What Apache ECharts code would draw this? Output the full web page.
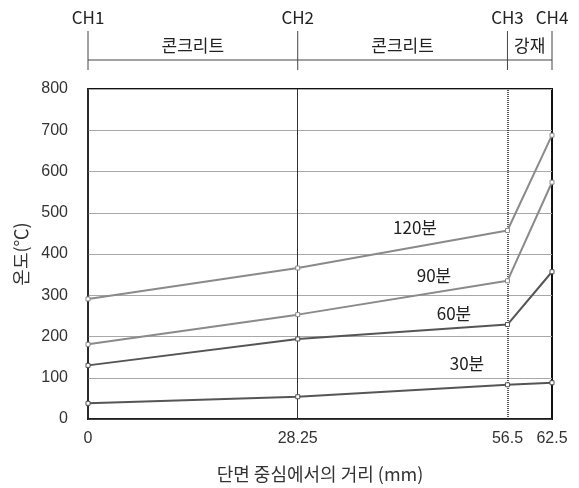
<!DOCTYPE html>
<html>
<head>
<meta charset="utf-8">
<script src="https://cdn.jsdelivr.net/npm/echarts@6/dist/echarts.min.js"></script>
<style>
  html, body { margin: 0; padding: 0; background: #fff; }
  #chart { width: 579px; height: 488px; }
</style>
</head>
<body>
<div id="chart"></div>
<script>
// 거리 (mm)
var distances = [0, 28.25, 56.5, 62.5];
var chNames = ['CH1', 'CH2', 'CH3', 'CH4'];
var zones = ['콘크리트', '콘크리트', '강재'];

var seriesNames = ['120분', '90분', '60분', '30분'];
var temp120 = [291, 366, 457, 688];
var temp90 = [181, 253, 335, 574];
var temp60 = [130, 194, 229, 357];
var temp30 = [38, 54, 83, 88];

var KFONT = '"Noto Sans CJK KR", "Noto Sans", sans-serif';
var NFONT = '"Liberation Sans", Arial, sans-serif';

function pts(vals) {
    var out = [];
    for (var i = 0; i < distances.length; i++) {
        out.push([distances[i], vals[i]]);
    }
    return out;
}

var lineColors = ['#8a8a8a', '#8a8a8a', '#555', '#555'];
var allData = [temp120, temp90, temp60, temp30];

var series = [];
for (var s = 0; s < allData.length; s++) {
    series.push({
        name: seriesNames[s],
        type: 'line',
        data: pts(allData[s]),
        symbol: 'rect',
        symbolSize: 4,
        lineStyle: { color: lineColors[s], width: 2 },
        itemStyle: { color: '#fff', borderColor: lineColors[s], borderWidth: 1 },
        z: 5
    });
}
// 세로 구분선 (CH2, CH3)
series.push({
    type: 'line',
    data: [],
    markLine: {
        silent: true,
        symbol: 'none',
        label: { show: false },
        data: [
            { xAxis: distances[1], lineStyle: { color: '#333', width: 1, type: 'solid' } },
            { xAxis: distances[2], lineStyle: { color: '#222', width: 1.5, type: [1, 1] } }
        ]
    }
});

var myChart = echarts.init(document.getElementById('chart'));
var option = {
    backgroundColor: '#fff',
    animation: false,
    grid: {
        left: 88, right: 27, top: 89, bottom: 67,
        show: true, borderColor: '#111', borderWidth: 2,
        containLabel: false
    },
    xAxis: {
        type: 'value',
        min: 0, max: 62.5,
        name: '단면 중심에서의 거리 (mm)',
        nameLocation: 'middle',
        nameGap: 46,
        nameTextStyle: { fontFamily: KFONT, fontSize: 18, color: '#333' },
        axisLine: { show: true, lineStyle: { color: '#222', width: 1.5 } },
        axisTick: { show: false },
        splitLine: { show: false },
        axisLabel: {
            customValues: distances,
            fontFamily: NFONT, fontSize: 16, color: '#333', margin: 12,
            formatter: function (v) { return String(v); }
        }
    },
    yAxis: {
        type: 'value',
        min: 0, max: 800, interval: 100,
        name: '온도(℃)',
        nameLocation: 'middle',
        nameGap: 58,
        nameRotate: 90,
        nameTextStyle: { fontFamily: KFONT, fontSize: 18, color: '#333' },
        axisLine: { show: true, lineStyle: { color: '#333', width: 1.5 } },
        axisTick: { show: false },
        splitLine: { show: true, lineStyle: { color: '#a8a8a8', width: 1 } },
        axisLabel: { fontFamily: NFONT, fontSize: 16, color: '#333', margin: 20 }
    },
    series: series
};
myChart.setOption(option);

// 상단 CH 표시 및 재료 구간, 시리즈 라벨
function px(x, y) { return myChart.convertToPixel({ gridIndex: 0 }, [x, y]); }
var g = [];
var lineY = 60;
var x0 = px(distances[0], 0)[0], x3 = px(distances[3], 0)[0];
g.push({ type: 'line', shape: { x1: x0, y1: lineY, x2: x3, y2: lineY }, style: { stroke: '#444', lineWidth: 1 } });
for (var i = 0; i < distances.length; i++) {
    var xp = px(distances[i], 0)[0];
    g.push({ type: 'line', shape: { x1: xp, y1: 31, x2: xp, y2: 70 }, style: { stroke: '#444', lineWidth: 1 } });
    g.push({ type: 'text', x: xp, y: 18, style: { text: chNames[i], font: '17px ' + KFONT, fill: '#222', align: 'center', verticalAlign: 'middle' } });
}
for (var z = 0; z < zones.length; z++) {
    var xa = px(distances[z], 0)[0], xb = px(distances[z + 1], 0)[0];
    g.push({ type: 'text', x: (xa + xb) / 2, y: 46, style: { text: zones[z], font: '17px ' + KFONT, fill: '#222', align: 'center', verticalAlign: 'middle' } });
}
var labelPos = [[415, 228], [434, 276], [454, 314], [467, 364]];
for (var k = 0; k < seriesNames.length; k++) {
    g.push({ type: 'text', x: labelPos[k][0], y: labelPos[k][1], style: { text: seriesNames[k], font: '17px ' + KFONT, fill: '#222', align: 'center', verticalAlign: 'middle' }, z: 10 });
}
myChart.setOption({ graphic: g });
</script>
</body>
</html>
